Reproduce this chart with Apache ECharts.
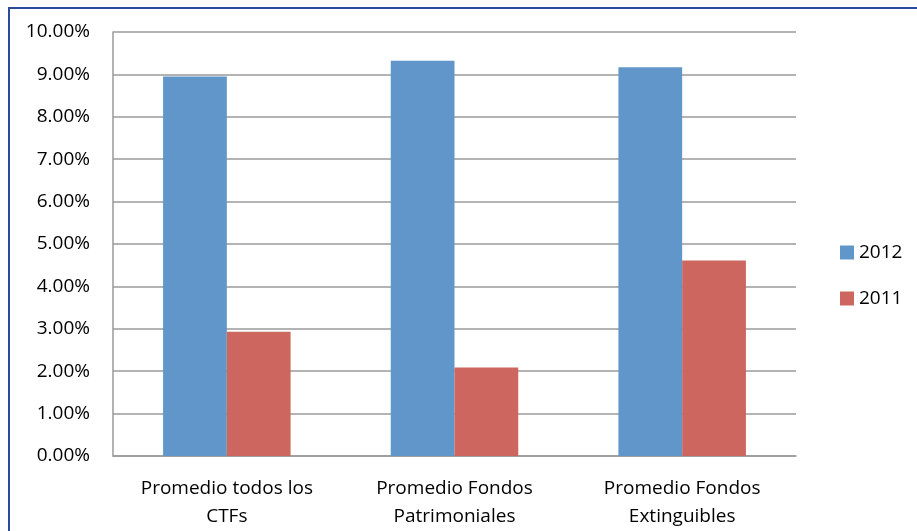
<!DOCTYPE html>
<html>
<head>
<meta charset="utf-8">
<script src="https://cdn.jsdelivr.net/npm/echarts@6/dist/echarts.min.js"></script>
<style>
html,body{margin:0;padding:0;background:#fff;}
#frame{position:absolute;left:8px;top:7px;width:909px;height:524px;border-top:2px solid #2b4a9b;border-left:2px solid #2b4a9b;}
#chart{position:absolute;left:0;top:0;width:917px;height:531px;}
</style>
</head>
<body>
<div id="frame"></div>
<div id="chart"></div>
<script>
const categories = ["Promedio todos los\nCTFs", "Promedio Fondos\nPatrimoniales", "Promedio Fondos\nExtinguibles"];
const seriesNames = ["2012", "2011"];
const values2012 = [8.95, 9.32, 9.17];
const values2011 = [2.93, 2.09, 4.61];

const font = "'Open Sans', sans-serif";
const chart = echarts.init(document.getElementById('chart'), null, {renderer: 'canvas'});
chart.setOption({
  animation: false,
  backgroundColor: 'transparent',
  grid: {left: 113, right: 121, top: 32, bottom: 74, containLabel: false},
  legend: {
    orient: 'vertical',
    left: 835,
    top: 238,
    itemWidth: 14,
    itemHeight: 14,
    itemGap: 27,
    itemStyle: {borderWidth: 0},
    icon: 'rect',
    textStyle: {fontFamily: font, fontSize: 19, color: '#000'},
    data: seriesNames
  },
  xAxis: {
    type: 'category',
    data: categories,
    axisLine: {lineStyle: {color: '#9a9a9a', width: 1.5}},
    axisTick: {show: false},
    axisLabel: {fontFamily: font, fontSize: 19, color: '#000', margin: 19, lineHeight: 28, interval: 0}
  },
  yAxis: {
    type: 'value',
    min: 0, max: 10, interval: 1,
    axisLine: {show: true, lineStyle: {color: '#9a9a9a', width: 1.5}},
    axisTick: {show: false},
    splitLine: {lineStyle: {color: '#9a9a9a', width: 1.5}},
    axisLabel: {fontFamily: font, fontSize: 19, color: '#000', margin: 23,
      formatter: v => v.toFixed(2) + '%'}
  },
  series: [
    {name: seriesNames[0], type: 'bar', data: values2012, barWidth: '28%', barGap: '0%',
     itemStyle: {color: '#6096c9'}},
    {name: seriesNames[1], type: 'bar', data: values2011, barWidth: '28%', barGap: '0%',
     itemStyle: {color: '#cc665f'}}
  ]
});
</script>
</body>
</html>
